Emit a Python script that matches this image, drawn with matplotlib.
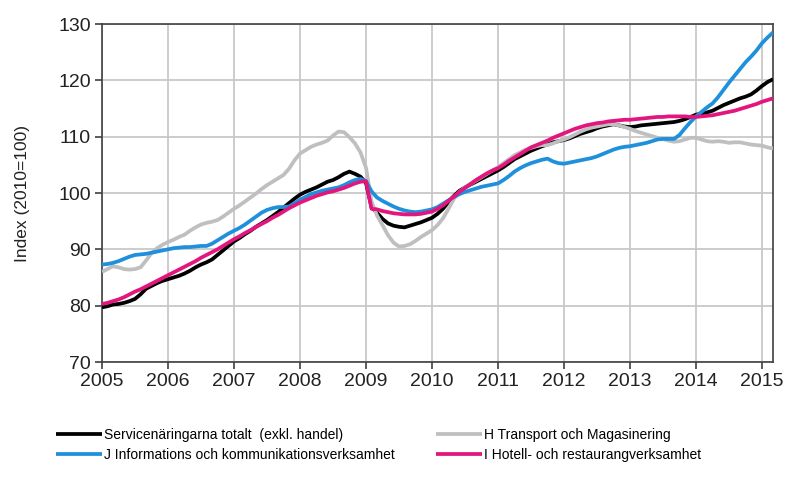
import numpy as np
import matplotlib
matplotlib.use("Agg")
import matplotlib.pyplot as plt

plt.rcParams['font.family'] = ['Liberation Sans', 'DejaVu Sans']

start_year = 2005
labels = ["Servicenäringarna totalt  (exkl. handel)",
          "H Transport och Magasinering",
          "J Informations och kommunikationsverksamhet",
          "I Hotell- och restaurangverksamhet"]

# monthly values Jan 2005 - Mar 2015
total = [
    79.7, 79.9, 80.2, 80.3, 80.5, 80.8, 81.2, 82.0, 83.0, 83.5, 84.0, 84.4,
    84.7, 85.0, 85.3, 85.7, 86.2, 86.8, 87.3, 87.7, 88.2, 89.0, 89.8, 90.6,
    91.4, 92.0, 92.7, 93.3, 94.0, 94.6, 95.2, 95.9, 96.6, 97.4, 98.2, 99.0,
    99.7, 100.2, 100.6, 101.0, 101.5, 102.0, 102.3, 102.8, 103.4, 103.8, 103.4, 102.9,
    101.8, 97.5, 96.5, 95.4, 94.6, 94.2, 94.0, 93.9, 94.2, 94.5, 94.8, 95.2,
    95.6, 96.3, 97.2, 98.4, 99.5, 100.4, 101.0, 101.5, 102.0, 102.5, 103.0, 103.5,
    104.0, 104.6, 105.3, 106.0, 106.5, 107.0, 107.5, 107.9, 108.3, 108.6, 109.0, 109.2,
    109.4, 109.7, 110.1, 110.5, 110.8, 111.1, 111.5, 111.8, 112.0, 112.2, 112.0, 111.8,
    111.7, 111.8, 112.0, 112.1, 112.2, 112.3, 112.4, 112.5, 112.6, 112.8, 113.1, 113.5,
    113.9, 114.1, 114.3, 114.6, 115.1, 115.6, 116.0, 116.4, 116.8, 117.1, 117.5, 118.2,
    119.0, 119.7, 120.2]

transport = [
    86.0, 86.5, 87.0, 86.8, 86.5, 86.4, 86.5, 86.8, 88.0, 89.3, 90.2, 90.8,
    91.3, 91.7, 92.2, 92.6, 93.3, 93.9, 94.4, 94.7, 94.9, 95.2, 95.8, 96.5,
    97.2, 97.8, 98.5, 99.2, 99.9, 100.7, 101.4, 102.0, 102.6, 103.2, 104.3, 105.8,
    107.0, 107.6, 108.2, 108.6, 108.9, 109.3, 110.2, 110.9, 110.8, 109.9, 108.8, 107.2,
    104.5, 98.5, 96.0, 94.3, 92.5, 91.2, 90.5, 90.6, 90.9, 91.5, 92.2, 92.8,
    93.4, 94.3, 95.5, 97.2, 99.0, 100.2, 101.0, 101.6, 102.2, 102.8, 103.4, 104.0,
    104.6, 105.3, 106.0, 106.7, 107.2, 107.7, 108.0, 108.3, 108.5, 108.5, 108.8, 109.2,
    109.5, 109.9, 110.4, 110.9, 111.3, 111.6, 111.8, 112.0, 112.2, 112.2, 112.0, 111.7,
    111.4, 111.0, 110.7, 110.4, 110.1, 109.8, 109.6, 109.3, 109.1, 109.2, 109.5, 109.8,
    109.8, 109.5, 109.2, 109.1, 109.2, 109.1, 108.9, 109.0, 109.0, 108.8, 108.6, 108.5,
    108.4, 108.1, 107.9]

info = [
    87.3, 87.4, 87.6, 87.9, 88.3, 88.7, 89.0, 89.1, 89.2, 89.4, 89.6, 89.8,
    90.0, 90.2, 90.3, 90.4, 90.4, 90.5, 90.6, 90.6, 91.0, 91.6, 92.2, 92.8,
    93.3, 93.8, 94.4, 95.1, 95.8, 96.5, 97.0, 97.3, 97.5, 97.5, 97.6, 98.2,
    98.8, 99.3, 99.8, 100.1, 100.4, 100.6, 100.8, 101.0, 101.4, 101.9, 102.3, 102.5,
    102.1, 100.3, 99.2, 98.6, 98.1, 97.6, 97.2, 96.9, 96.7, 96.6, 96.7, 96.9,
    97.1, 97.5, 98.1, 98.7, 99.3, 99.8, 100.2, 100.5, 100.8, 101.1, 101.3, 101.5,
    101.7, 102.3, 103.0, 103.8, 104.4, 104.9, 105.3, 105.6, 105.9, 106.1, 105.6, 105.3,
    105.2, 105.4, 105.6, 105.8, 106.0, 106.2, 106.5, 106.9, 107.3, 107.7, 108.0, 108.2,
    108.3, 108.5, 108.7, 108.9, 109.2, 109.5, 109.6, 109.6, 109.6, 110.3, 111.5, 112.6,
    113.6, 114.4, 115.2, 115.9, 117.0, 118.3, 119.6, 120.8, 122.0, 123.2, 124.2, 125.3,
    126.6, 127.6, 128.5]

hotel = [
    80.3, 80.5, 80.8, 81.1, 81.5, 82.0, 82.5, 82.9, 83.4, 83.9, 84.4, 84.9,
    85.4, 85.9, 86.4, 86.9, 87.4, 87.9, 88.5, 89.0, 89.5, 90.0, 90.6, 91.2,
    91.8, 92.3, 92.9, 93.4, 94.0, 94.5, 95.0, 95.6, 96.1, 96.7, 97.3, 97.8,
    98.3, 98.7, 99.1, 99.5, 99.8, 100.1, 100.3, 100.6, 100.9, 101.3, 101.7, 102.0,
    102.1, 97.2, 97.1, 96.8, 96.6, 96.4, 96.3, 96.2, 96.2, 96.2, 96.3, 96.5,
    96.7, 97.2, 97.8, 98.6, 99.4, 100.2, 100.9, 101.6, 102.3, 102.9, 103.5, 104.0,
    104.4, 105.0, 105.7, 106.3, 106.9, 107.5, 108.1, 108.5, 108.9, 109.3, 109.8, 110.2,
    110.6, 111.0, 111.4, 111.7, 112.0, 112.2, 112.4, 112.5, 112.7, 112.8, 112.9, 113.0,
    113.0, 113.1, 113.2, 113.3, 113.4, 113.5, 113.5, 113.6, 113.6, 113.6, 113.6, 113.5,
    113.5, 113.6, 113.7, 113.8, 114.0, 114.2, 114.4, 114.6, 114.9, 115.2, 115.5, 115.8,
    116.2, 116.5, 116.8]

years = list(range(2005, 2016))
yticks = [70, 80, 90, 100, 110, 120, 130]

n = len(total)
x = start_year + np.arange(n) / 12.0

fig = plt.figure(figsize=(7.9, 4.91), dpi=100)
ax = fig.add_axes([102/790, 1 - 362/491, (773-102)/790, (362-24)/491])

colors = ['#000000', '#BFBFBF', '#1E90DC', '#E2167C']
series = [total, transport, info, hotel]
lines = []
for s, c, lab in zip(series, colors, labels):
    ln, = ax.plot(x, s, color=c, lw=2.7, label=lab, solid_capstyle='butt', zorder=3)
    lines.append(ln)

ax.set_xlim(start_year, x[-1])
ax.set_ylim(70, 130)
ax.set_xticks(years)
ax.set_xticklabels([str(y) for y in years], fontsize=14)
ax.set_yticks(yticks)
ax.set_yticklabels([str(v) for v in yticks], fontsize=14)
ax.grid(True, color='#C8C8C8', lw=1.3, zorder=0)
ax.set_axisbelow(True)
for sp in ax.spines.values():
    sp.set_color('#404040')
    sp.set_linewidth(1.2)
ax.tick_params(axis='both', direction='out', length=5, width=1.2, color='#404040',
               labelcolor='#222222', pad=3)
ax.set_ylabel('Index (2010=100)', fontsize=12.5, color='#222222', labelpad=20)

# legend filled row-wise: reorder for matplotlib's column-wise filling
order = [0, 2, 1, 3]
fig.legend([lines[i] for i in order], [labels[i] for i in order],
           loc='upper left', bbox_to_anchor=(56/790, 1 - 428/491),
           ncol=2, frameon=False, fontsize=10, handlelength=3.3, handletextpad=0.15,
           columnspacing=3.0, labelspacing=0.4, borderaxespad=0, borderpad=0)

fig.savefig('out.png', dpi=100)
